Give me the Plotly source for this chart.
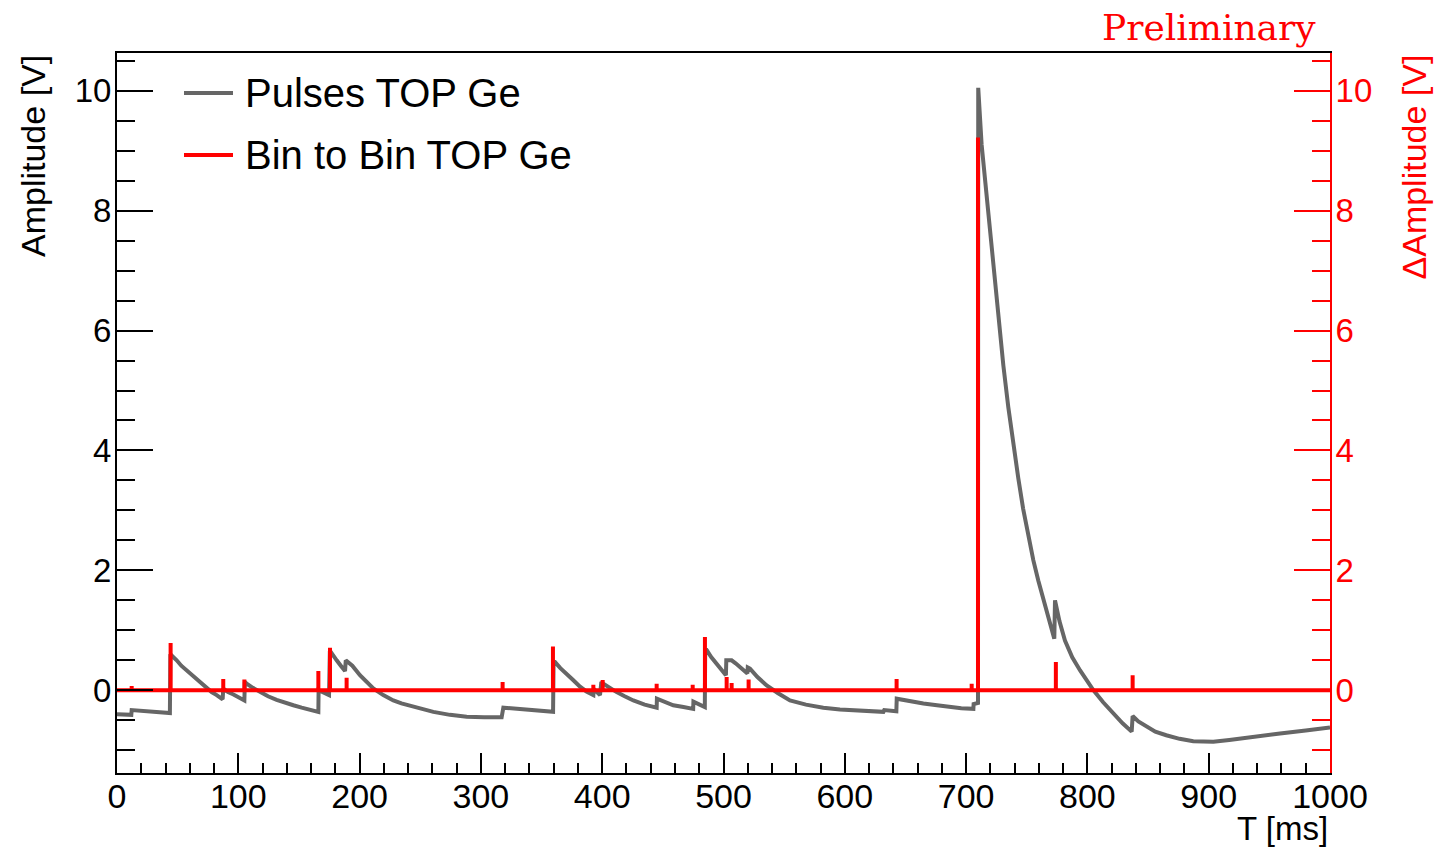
import plotly.graph_objects as go

# ---------------- data ----------------
# Gray pulse trace, given as consecutive segments (time in ms, amplitude in V).
pulse_segments = [
    [(0, -0.40), (11.8, -0.41)],
    [(12.1, -0.33), (25, -0.35), (43.6, -0.38)],
    [(44.0, 0.60), (45.1, 0.58), (49.2, 0.50), (53, 0.41), (57.5, 0.33), (61.5, 0.25),
     (65.7, 0.17), (69.8, 0.10), (73.9, 0.03), (78, -0.03), (82.2, -0.08), (87.1, -0.15)],
    [(87.6, 0.03), (91.5, -0.03), (96, -0.07), (100.5, -0.12), (105, -0.17)],
    [(105.4, 0.14), (106.9, 0.11), (112, 0.04), (117.9, -0.03), (124.5, -0.10), (131.6, -0.16),
     (138.5, -0.21), (145.4, -0.25), (152.2, -0.29), (159.1, -0.32), (166, -0.36)],
    [(166.2, 0.0), (170, -0.04), (174.8, -0.08)],
    [(175.5, 0.66), (178, 0.60), (181.1, 0.50), (184.5, 0.41), (188, 0.32)],
    [(188.6, 0.50), (194, 0.41), (200.3, 0.25), (205.8, 0.13), (211.3, 0.03), (219.5, -0.08),
     (227.8, -0.17), (234.5, -0.22), (241.5, -0.26), (251, -0.32), (260.8, -0.36),
     (274.5, -0.41), (288.3, -0.44), (302.7, -0.45), (317.1, -0.45)],
    [(318.5, -0.29), (337.7, -0.32), (359.5, -0.36)],
    [(359.9, 0.47), (361.1, 0.47), (365.5, 0.37), (370.7, 0.28), (376, 0.17), (381.7, 0.06),
     (387, -0.02), (392.7, -0.08)],
    [(393.0, 0.02), (398.2, -0.08)],
    [(399.3, 0.14), (400.9, 0.11), (406, 0.04), (411.9, -0.03), (418.5, -0.10), (425.7, -0.17),
     (435, -0.24), (444.9, -0.29)],
    [(445.1, -0.14), (452, -0.20), (458.6, -0.25), (467, -0.28), (475.0, -0.31)],
    [(475.2, -0.19), (480, -0.24), (484.6, -0.28)],
    [(484.9, 0.67), (486.1, 0.67), (490, 0.55), (494.3, 0.44), (498, 0.34), (502, 0.25)],
    [(502.3, 0.50), (506.7, 0.50), (510, 0.45), (513.6, 0.39), (516.5, 0.33), (519.7, 0.28)],
    [(520.0, 0.38), (521.8, 0.36), (528, 0.22), (535.6, 0.08), (545, -0.05), (554.8, -0.17),
     (568, -0.24), (582.3, -0.29), (596, -0.32), (609.8, -0.34), (621, -0.35), (631.8, -0.36)],
    [(632.5, -0.33), (642.5, -0.35)],
    [(642.8, -0.14), (653, -0.18), (664.8, -0.22), (676, -0.25), (686.7, -0.28), (696, -0.30),
     (706, -0.31)],
    [(706.2, -0.23), (709.8, -0.21)],
    [(710.0, 10.05), (712.8, 9.10), (715.5, 8.52), (718.3, 7.94), (721, 7.36), (723.8, 6.80),
     (727, 6.14), (730.7, 5.42), (734.8, 4.72), (738.8, 4.10), (743.0, 3.54), (747, 3.03),
     (751.3, 2.56), (755.4, 2.17), (759.5, 1.83), (766, 1.33), (772.7, 0.86)],
    [(773.3, 1.50), (777, 1.15), (781.5, 0.83), (787.5, 0.55), (794, 0.33), (800, 0.14),
     (805, 0.0), (813, -0.20), (821.4, -0.39), (829, -0.55), (836.5, -0.69)],
    [(837.3, -0.43), (842, -0.52), (848.8, -0.61), (856, -0.69), (865, -0.75), (876, -0.81),
     (887.3, -0.85), (903.8, -0.86), (917, -0.83), (931, -0.79), (945, -0.76),
     (958.8, -0.72), (980, -0.67), (1000, -0.62)],
]

# Red bin-to-bin differences: spike positions (ms) and heights (V); zero elsewhere
spike_t = [12.1, 44.2, 87.6, 105.0, 166.0, 175.6, 189.3, 317.9, 359.4, 392.7, 400.4,
           444.9, 474.6, 484.7, 502.6, 506.7, 520.7, 634.5, 642.7, 704.6, 709.8, 774.0, 837.3]
spike_h = [0.07, 0.79, 0.19, 0.18, 0.32, 0.71, 0.21, 0.14, 0.73, 0.09, 0.17,
           0.11, 0.09, 0.89, 0.22, 0.12, 0.18, 0.03, 0.19, 0.11, 9.22, 0.47, 0.25]

t_range = [0, 1000]
y_range = [-1.38, 10.63]
x_ticks = [0, 100, 200, 300, 400, 500, 600, 700, 800, 900, 1000]
y_ticks = [0, 2, 4, 6, 8, 10]

series_names = ["Pulses TOP Ge", "Bin to Bin TOP Ge"]

# ---------------- build traces ----------------
pulse_t = [p[0] for seg in pulse_segments for p in seg]
pulse_v = [p[1] for seg in pulse_segments for p in seg]

diff_t = [t_range[0]]
diff_v = [0.0]
for t, h in zip(spike_t, spike_h):
    diff_t += [t, t, t]
    diff_v += [0.0, h, 0.0]
diff_t.append(t_range[1])
diff_v.append(0.0)

GRAY = "#666666"
RED = "#ff0000"
FONT = "Liberation Sans, Arial, Helvetica, sans-serif"

fig = go.Figure()
fig.add_trace(go.Scatter(x=pulse_t, y=pulse_v, mode="lines", name=series_names[0],
                         line=dict(color=GRAY, width=4), showlegend=False, yaxis="y"))
fig.add_trace(go.Scatter(x=diff_t, y=diff_v, mode="lines", name=series_names[1],
                         line=dict(color=RED, width=4), showlegend=False, yaxis="y2"))

W, H = 1435, 848
ML, MR, MT, MB = 117, 105, 53, 75
PW, PH = W - ML - MR, H - MT - MB


def px_x(px):
    return (px - ML) / PW


def px_y(py):
    return (H - MB - py) / PH


common_y = dict(range=y_range, tickvals=y_ticks, ticks="inside", ticklen=36, tickwidth=2,
                showline=True, linewidth=2, showgrid=False, zeroline=False,
                ticklabelstandoff=-3,
                tickfont=dict(family=FONT, size=33),
                minor=dict(ticks="inside", ticklen=18, dtick=0.5, tick0=0, tickwidth=2,
                           showgrid=False))

fig.update_layout(
    width=W, height=H, autosize=False,
    margin=dict(l=ML, r=MR, t=MT, b=MB, pad=0),
    paper_bgcolor="white", plot_bgcolor="white",
    showlegend=False,
    xaxis=dict(range=t_range, tickvals=x_ticks, ticks="inside", ticklen=20, tickwidth=2,
               tickcolor="black", showline=True, linecolor="black", linewidth=2, mirror=True,
               showgrid=False, zeroline=False, ticklabelstandoff=-8,
               tickfont=dict(family=FONT, size=34, color="black"),
               minor=dict(ticks="inside", ticklen=10, dtick=20, tick0=0, tickwidth=2,
                          tickcolor="black", showgrid=False)),
    yaxis=dict(**common_y, side="left", linecolor="black", tickcolor="black",
               color="black"),
    yaxis2=dict(**common_y, side="right", overlaying="y", linecolor=RED, tickcolor=RED,
                color=RED),
)
fig.update_layout(yaxis2_tickfont_color=RED, yaxis2_minor_tickcolor=RED,
                  yaxis_minor_tickcolor="black")

annotations = [
    dict(text="Amplitude [V]", xref="paper", yref="paper", x=px_x(33), y=px_y(53),
         xanchor="center", yanchor="top", textangle=-90, showarrow=False,
         font=dict(family=FONT, size=34, color="black")),
    dict(text="\u0394Amplitude [V]", xref="paper", yref="paper", x=px_x(1413), y=px_y(53),
         xanchor="center", yanchor="top", textangle=-90, showarrow=False,
         font=dict(family=FONT, size=34, color=RED)),
    dict(text="T [ms]", xref="paper", yref="paper", x=1, y=px_y(849),
         xanchor="right", yanchor="bottom", showarrow=False,
         font=dict(family=FONT, size=33, color="black")),
    dict(text="Preliminary", xref="paper", yref="paper", x=px_x(1318), y=px_y(5),
         xanchor="right", yanchor="top", showarrow=False,
         font=dict(family="DejaVu Serif, serif", size=36, color=RED)),
    dict(text=series_names[0], xref="paper", yref="paper", x=px_x(243), y=px_y(93),
         xanchor="left", yanchor="middle", showarrow=False,
         font=dict(family=FONT, size=40, color="black")),
    dict(text=series_names[1], xref="paper", yref="paper", x=px_x(243), y=px_y(155),
         xanchor="left", yanchor="middle", showarrow=False,
         font=dict(family=FONT, size=40, color="black")),
]
fig.update_layout(annotations=annotations)

shapes = [
    dict(type="line", xref="paper", yref="paper", x0=px_x(184), x1=px_x(233),
         y0=px_y(93), y1=px_y(93), line=dict(color=GRAY, width=4)),
    dict(type="line", xref="paper", yref="paper", x0=px_x(184), x1=px_x(233),
         y0=px_y(155), y1=px_y(155), line=dict(color=RED, width=4)),
]
fig.update_layout(shapes=shapes)

fig.write_html("out.html")
